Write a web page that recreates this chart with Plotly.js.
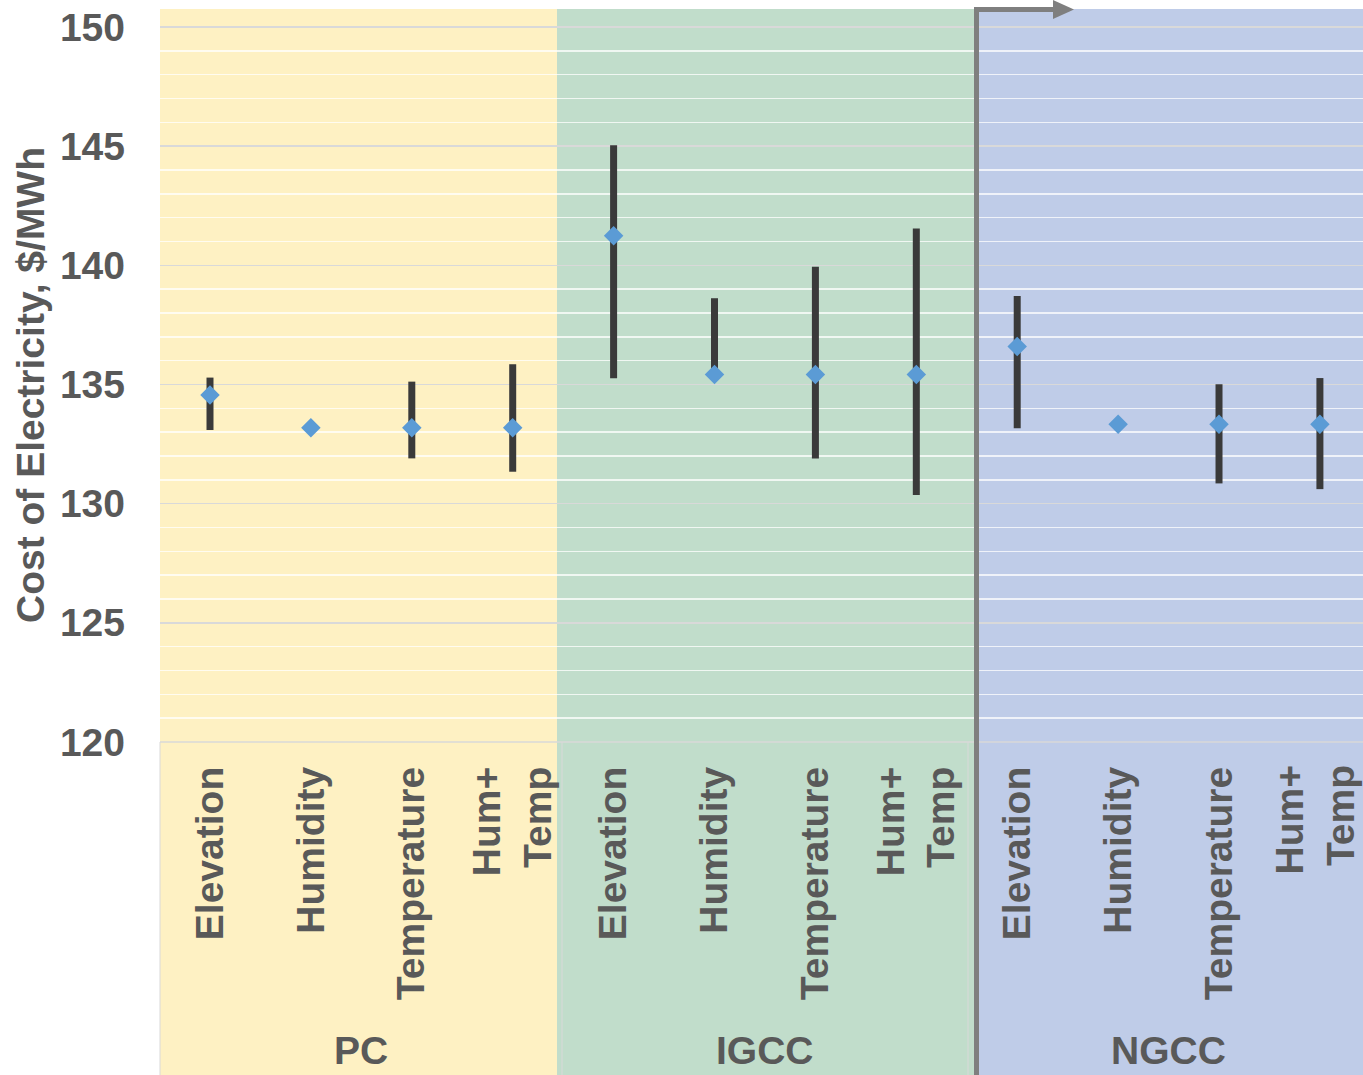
<!DOCTYPE html>
<html>
<head>
<meta charset="utf-8">
<script src="https://cdn.plot.ly/plotly-3.0.1.min.js"></script>
<style>html,body{margin:0;padding:0;background:#fff;}#chart{width:1363px;height:1075px;}</style>
</head>
<body>
<div id="chart"></div>
<script>
// ---- data ----
const groups = ['PC', 'IGCC', 'NGCC'];
const factors = ['Elevation', 'Humidity', 'Temperature', 'Hum+<br>Temp'];
const coe  = [134.56, 133.19, 133.19, 133.19, 141.24, 135.42, 135.42, 135.42, 136.59, 133.33, 133.33, 133.33];
const high = [135.29, 133.19, 135.12, 135.85, 145.04, 138.62, 139.94, 141.55, 138.71, 133.33, 135.01, 135.27];
const low  = [133.09, 133.19, 131.90, 131.34, 135.26, 135.42, 131.90, 130.36, 133.16, 133.33, 130.85, 130.61];
const yTicks = [120, 125, 130, 135, 140, 145, 150];
const yTitle = 'Cost of Electricity, $/MWh';

// ---- derived ----
const xIdx = [], tickText = [];
groups.forEach((g, gi) => factors.forEach((f, fi) => { xIdx.push(gi * factors.length + fi); tickText.push(f); }));
const errPlus = coe.map((v, i) => high[i] - v);
const errMinus = coe.map((v, i) => v - low[i]);
// the last label sits against the right edge: draw it as an annotation nudged inward
const lastIdx = xIdx.length - 1;
const axisText = tickText.map((t, i) => i === lastIdx ? '' : t);

// layout geometry (pixels)
const W = 1363, H = 1075, L = 160, R = 0, T = 9, B = 333;
const pw = W - L - R, ph = H - T - B;
const px = x => (x - L) / pw;
const py = y => (H - B - y) / ph;

const txt = '#595959';
const fnt = (s) => ({family: 'Liberation Sans, Arial, sans-serif', size: s, color: txt, weight: 700});

const bg = [
  {x0: 160, x1: 557, c: '#FEF1C3'},
  {x0: 557, x1: 975, c: '#C1DDCB'},
  {x0: 975, x1: 1363, c: '#BFCCE8'}
];
const shapes = bg.map(b => ({type: 'rect', xref: 'paper', yref: 'paper', x0: px(b.x0), x1: px(b.x1), y0: py(1075), y1: py(9), fillcolor: b.c, line: {width: 0}, layer: 'below'}));
// category axis separators below plot
[160, 562, 968].forEach(x => shapes.push({type: 'line', xref: 'paper', yref: 'paper', x0: px(x), x1: px(x), y0: py(742), y1: py(1075), line: {color: '#d9d9d9', width: 1}, layer: 'above'}));
shapes.push({type: 'line', xref: 'paper', yref: 'paper', x0: px(160), x1: px(1363), y0: py(742), y1: py(742), line: {color: '#d9d9d9', width: 1.5}, layer: 'above'});
// gray bent arrow
shapes.push({type: 'path', xref: 'paper', yref: 'paper', path: `M ${px(976.5)} ${py(1075)} L ${px(976.5)} ${py(9.5)} L ${px(1056)} ${py(9.5)}`, line: {color: '#7f7f7f', width: 5}, layer: 'above'});
shapes.push({type: 'path', xref: 'paper', yref: 'paper', path: `M ${px(1053)} ${py(0)} L ${px(1074)} ${py(9.5)} L ${px(1053)} ${py(19)} Z`, fillcolor: '#7f7f7f', line: {width: 0}, layer: 'above'});

const annotations = groups.map((g, gi) => ({
  text: g, x: gi * factors.length + (factors.length - 1) / 2, xref: 'x', y: py(1050), yref: 'paper',
  showarrow: false, font: fnt(39), xanchor: 'center', yanchor: 'middle'
}));
annotations.push({
  text: yTitle, textangle: -90, x: px(30), xref: 'paper', y: py(385), yref: 'paper',
  showarrow: false, font: fnt(39), xanchor: 'center', yanchor: 'middle'
});
annotations.push({
  text: tickText[lastIdx], textangle: -90, x: xIdx[lastIdx], xref: 'x', y: py(763), yref: 'paper',
  showarrow: false, font: fnt(39), xanchor: 'center', yanchor: 'top', align: 'right', xshift: -5
});

const trace = {
  type: 'scatter', mode: 'markers', x: xIdx, y: coe,
  marker: {symbol: 'diamond', size: 15, color: '#5B9BD5', line: {width: 0}},
  error_y: {type: 'data', symmetric: false, array: errPlus, arrayminus: errMinus, color: '#3a3a3a', thickness: 7, width: 0},
  hoverinfo: 'x+y', showlegend: false, cliponaxis: false
};

const layout = {
  width: W, height: H,
  margin: {l: L, r: R, t: T, b: B, pad: 0},
  paper_bgcolor: '#ffffff', plot_bgcolor: 'rgba(0,0,0,0)',
  showlegend: false,
  xaxis: {
    range: [-0.4955, 11.427], tickmode: 'array', tickvals: xIdx, ticktext: axisText,
    tickangle: -90, tickfont: fnt(39), showgrid: false, zeroline: false, showline: false,
    ticks: '', ticklabelstandoff: 16, ticklabeloverflow: 'allow', automargin: false, fixedrange: true
  },
  yaxis: {
    range: [120, 150.755], tickmode: 'array', tickvals: yTicks, tickfont: fnt(39),
    showgrid: true, gridcolor: '#d9d9d9', gridwidth: 1.5,
    minor: {dtick: 1, showgrid: true, gridcolor: 'rgba(255,255,255,0.75)', gridwidth: 1.5},
    zeroline: false, showline: false, ticks: '', ticklabelstandoff: 34, ticklabeloverflow: 'allow', automargin: false,
    fixedrange: true
  },
  shapes: shapes,
  annotations: annotations
};

Plotly.newPlot('chart', [trace], layout, {displayModeBar: false, staticPlot: true});
</script>
</body>
</html>
